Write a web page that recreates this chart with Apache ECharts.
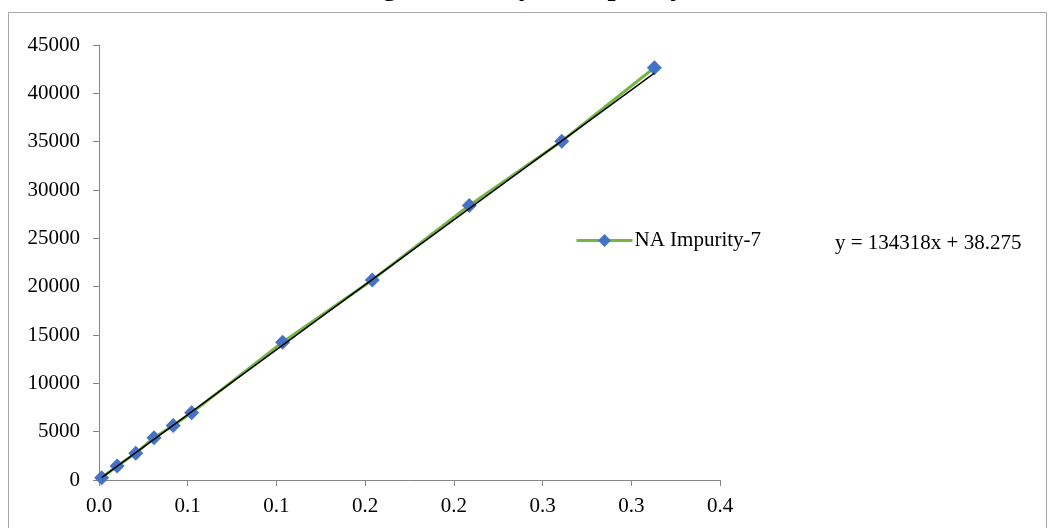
<!DOCTYPE html>
<html>
<head>
<meta charset="utf-8">
<script src="https://cdn.jsdelivr.net/npm/echarts@6/dist/echarts.min.js"></script>
<style>
  html, body { margin: 0; padding: 0; background: #ffffff; }
  #chart { width: 1048px; height: 528px; }
</style>
</head>
<body>
<div id="chart"></div>
<script>
// Chart text
const titleText = 'Range Linearity of Impurity-7';
const seriesName = 'NA Impurity-7';

// Concentration (x) and peak area (y) for each calibration level
const concentration = [0.0015, 0.0102, 0.0207, 0.0310, 0.0418, 0.0522, 0.1035, 0.1540, 0.2087, 0.2608, 0.3130];
const area = [240, 1440, 2760, 4380, 5640, 6950, 14250, 20700, 28400, 35050, 42650];

// Least-squares fit shown on the chart
const slope = 134318;
const intercept = 38.275;

// Axis tick labels (one decimal place, as formatted on the axis)
const xTickLabels = ['0.0', '0.1', '0.1', '0.2', '0.2', '0.3', '0.3', '0.4'];
const xStep = 0.05;
const yMax = 45000;
const yStep = 5000;

const FONT = '"Liberation Serif", "Times New Roman", serif';
const AXIS_GREY = '#868686';
const LINE_GREEN = '#77B543';
const MARKER_BLUE = '#4472C4';

const points = concentration.map((c, i) => [c, area[i]]);
const xFirst = Math.min(...concentration);
const xLast = Math.max(...concentration);
const trend = [
  [xFirst, slope * xFirst + intercept],
  [xLast, slope * xLast + intercept]
];
const equation = 'y = ' + slope + 'x + ' + intercept;

const chart = echarts.init(document.getElementById('chart'), null, { renderer: 'canvas' });

chart.setOption({
  animation: false,
  backgroundColor: '#ffffff',
  grid: { left: 99, right: 328, top: 45, bottom: 48, containLabel: false },
  xAxis: {
    type: 'value',
    min: 0,
    max: xStep * (xTickLabels.length - 1),
    interval: xStep,
    splitLine: { show: false },
    axisLine: { lineStyle: { color: AXIS_GREY, width: 1 } },
    axisTick: { show: true, inside: false, length: 6, lineStyle: { color: AXIS_GREY } },
    axisLabel: {
      margin: 16,
      color: '#000',
      fontFamily: FONT,
      fontSize: 21,
      formatter: v => xTickLabels[Math.round(v / xStep)] ?? ''
    }
  },
  yAxis: {
    type: 'value',
    min: 0,
    max: yMax,
    interval: yStep,
    splitLine: { show: false },
    axisLine: { show: true, lineStyle: { color: AXIS_GREY, width: 1 } },
    axisTick: { show: true, inside: false, length: 6, lineStyle: { color: AXIS_GREY } },
    axisLabel: {
      margin: 19,
      color: '#000',
      fontFamily: FONT,
      fontSize: 21,
      formatter: v => String(Math.round(v))
    }
  },
  legend: {
    data: [seriesName],
    left: 570,
    top: 225,
    orient: 'vertical',
    itemWidth: 56,
    itemHeight: 16,
    itemGap: 4,
    lineStyle: { width: 3, color: LINE_GREEN },
    textStyle: { color: '#000', fontFamily: FONT, fontSize: 21, padding: [0, 0, 0, -3] }
  },
  series: [
    {
      name: seriesName,
      type: 'line',
      data: points,
      z: 2,
      lineStyle: { color: LINE_GREEN, width: 3 },
      symbol: 'diamond',
      symbolSize: 15,
      itemStyle: { color: MARKER_BLUE, borderWidth: 0 }
    },
    {
      name: 'Linear fit',
      type: 'line',
      data: trend,
      z: 3,
      symbol: 'none',
      silent: true,
      lineStyle: { color: '#000000', width: 1.5 }
    }
  ],
  graphic: [
    {
      type: 'rect',
      silent: true,
      shape: { x: 8.5, y: 12.5, width: 1038, height: 600 },
      style: { fill: 'none', stroke: '#a6a6a6', lineWidth: 1 }
    },
    {
      type: 'text',
      silent: true,
      x: 520,
      y: 2.5,
      style: {
        text: titleText,
        font: 'bold 29px ' + FONT,
        fill: '#000',
        align: 'center',
        verticalAlign: 'bottom'
      }
    },
    {
      type: 'text',
      silent: true,
      x: 835,
      y: 243,
      style: {
        text: equation,
        font: '21px ' + FONT,
        fill: '#000',
        align: 'left',
        verticalAlign: 'middle'
      }
    }
  ]
});
</script>
</body>
</html>
